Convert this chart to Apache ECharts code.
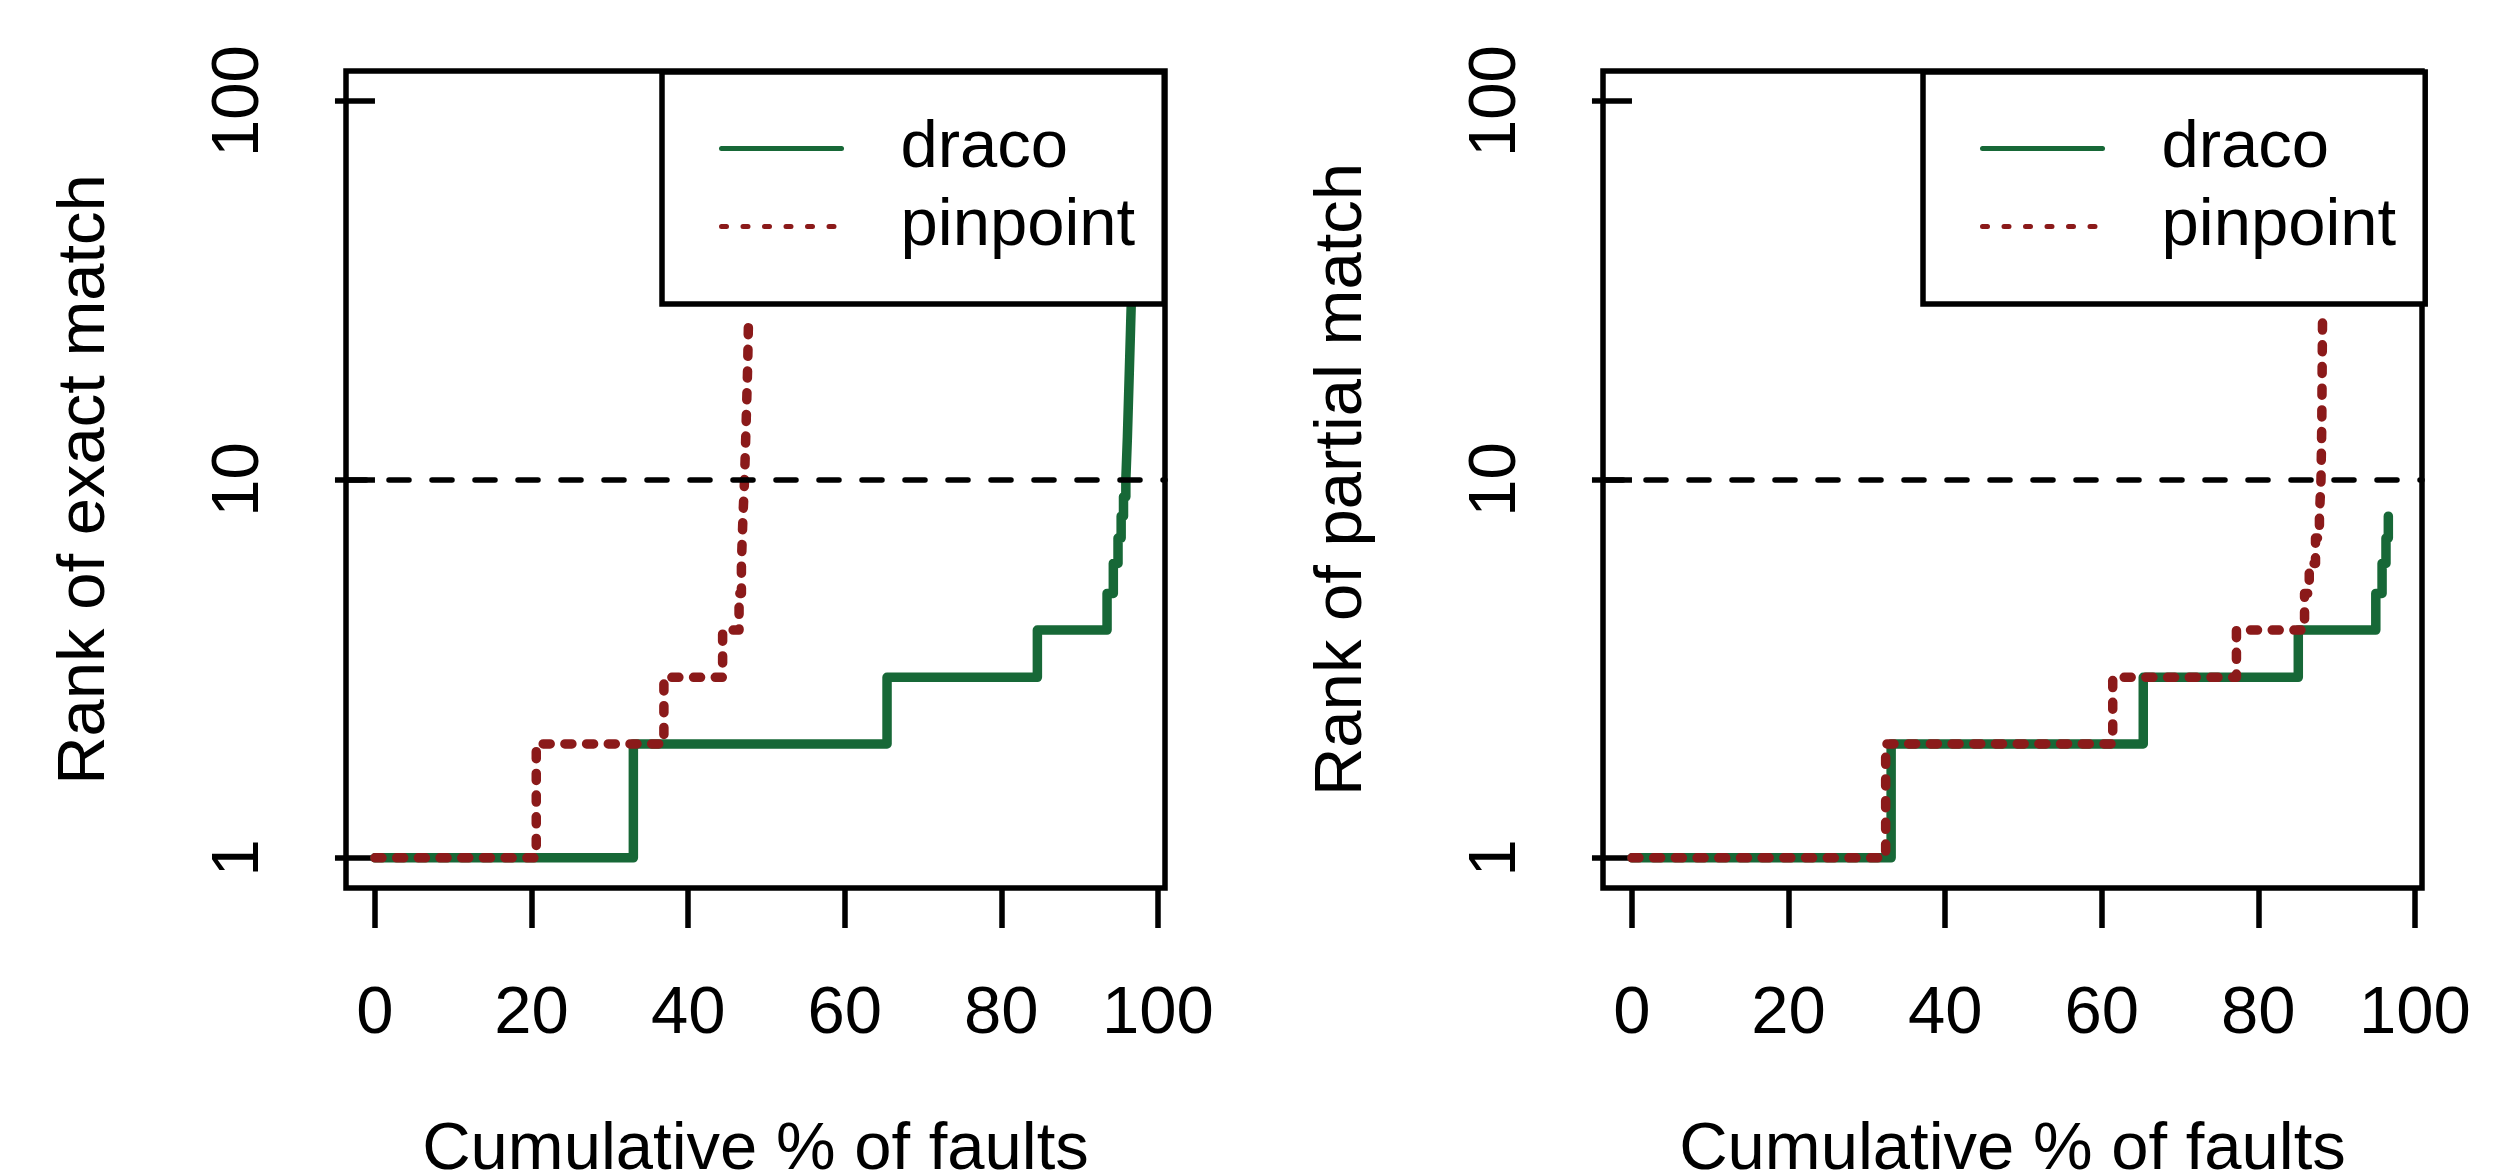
<!DOCTYPE html>
<html><head><meta charset="utf-8">
<script src="https://cdn.jsdelivr.net/npm/echarts@6/dist/echarts.min.js"></script>
<style>html,body{margin:0;padding:0;background:#fff}#c{width:2502px;height:1171px}</style>
</head><body><div id="c"></div>
<script>
// ---- data ----
const xTicks = [0, 20, 40, 60, 80, 100];
const yTicks = [1, 10, 100];
const threshold = 10;
const seriesNames = ['draco', 'pinpoint'];
const panelYTitles = ['Rank of exact match', 'Rank of partial match'];
const xTitle = 'Cumulative % of faults';
// [cumulative % of faults, rank]
const exactDraco = [[0,1],[33.0,2],[65.4,3],[84.6,4],[93.5,5],[94.3,6],[94.9,7],[95.3,8],[95.6,9],[95.9,10],[96.1,13],[96.3,18],[96.5,25],[96.7,35],[96.9,45]];
const exactPinpoint = [[0,1],[20.6,2],[36.9,3],[44.4,4],[46.5,5],[46.8,6],[47.0,8],[47.2,10],[47.4,14],[47.6,20],[47.7,26]];
const partialDraco = [[0,1],[33.1,2],[65.3,3],[85.1,4],[95.0,5],[95.8,6],[96.3,7],[96.6,8]];
const partialPinpoint = [[0,1],[32.4,2],[61.4,3],[77.2,4],[85.9,5],[86.5,6],[87.3,7],[87.8,8],[88.0,10],[88.1,14],[88.15,20],[88.2,27]];

// ---- styling ----
const FONT = 'Liberation Sans, Arial, Helvetica, sans-serif';
const FS = 67;
const GREEN = '#176837';
const RED = '#8B1A1A';
const grids = [
  {left: 346, top: 71, width: 819, height: 817},
  {left: 1603, top: 71, width: 819, height: 817}
];
const legendLefts = [662, 1923];

function xAxis(i) {
  return {
    type: 'value', gridIndex: i, min: -3.7, max: 100.9, position: 'bottom',
    axisLine: {show: false},
    splitLine: {show: false},
    axisTick: {show: true, length: 40, customValues: xTicks, lineStyle: {color: '#000', width: 5.5}},
    axisLabel: {customValues: xTicks, margin: 93, color: '#000', fontSize: FS, fontFamily: FONT},
    name: xTitle, nameLocation: 'middle', nameGap: 229,
    nameTextStyle: {color: '#000', fontSize: FS, fontFamily: FONT}
  };
}
function yAxis(i) {
  return {
    type: 'log', logBase: 10, gridIndex: i, min: 0.832, max: 120.2, position: 'left',
    axisLine: {show: false},
    splitLine: {show: false},
    minorTick: {show: false},
    axisTick: {show: true, length: 40, customValues: yTicks, lineStyle: {color: '#000', width: 5.5}},
    axisLabel: {customValues: yTicks, rotate: 90, margin: 73, color: '#000', fontSize: FS, fontFamily: FONT},
    name: panelYTitles[i], nameLocation: 'middle', nameGap: 227,
    nameTextStyle: {color: '#000', fontSize: FS, fontFamily: FONT}
  };
}
function lineSeries(name, data, i, color, dashed, withMark) {
  const s = {
    name: name, type: 'line', xAxisIndex: i, yAxisIndex: i, data: data,
    step: 'end', symbol: 'none', silent: true, animation: false,
    lineStyle: {color: color, width: 9.5, type: dashed ? [7, 14.7] : 'solid', cap: 'round', join: 'round'},
    itemStyle: {color: color}
  };
  if (withMark) {
    s.markLine = {
      silent: true, symbol: ['none', 'none'], animation: false,
      label: {show: false},
      lineStyle: {color: '#000', width: 5.5, type: [20, 23], cap: 'round'},
      data: [{yAxis: threshold}]
    };
  }
  return s;
}
function legend(i) {
  return {
    left: legendLefts[i], top: 72, orient: 'vertical',
    selectedMode: false,
    backgroundColor: '#fff', borderColor: '#000', borderWidth: 5.5, borderRadius: 0,
    padding: [43, 29, 44, 57],
    itemWidth: 120, itemHeight: 1, itemGap: 11,
    textStyle: {color: '#000', fontSize: FS, fontFamily: FONT, lineHeight: 67, padding: [0, 0, 0, 54]},
    data: [
      {name: seriesNames[0], itemStyle: {opacity: 0}, lineStyle: {color: GREEN, width: 5, type: 'solid', cap: 'round'}},
      {name: seriesNames[1], itemStyle: {opacity: 0}, lineStyle: {color: RED, width: 5, type: [5, 16.5], cap: 'round'}}
    ]
  };
}

const chart = echarts.init(document.getElementById('c'));
chart.setOption({
  backgroundColor: '#fff',
  animation: false,
  grid: grids.map(g => Object.assign({show: true, containLabel: false, outerBoundsMode: 'none', borderColor: '#000', borderWidth: 5.5, backgroundColor: 'transparent'}, g)),
  xAxis: [xAxis(0), xAxis(1)],
  yAxis: [yAxis(0), yAxis(1)],
  legend: [legend(0), legend(1)],
  series: [
    lineSeries(seriesNames[0], exactDraco, 0, GREEN, false, true),
    lineSeries(seriesNames[1], exactPinpoint, 0, RED, true, false),
    lineSeries(seriesNames[0], partialDraco, 1, GREEN, false, true),
    lineSeries(seriesNames[1], partialPinpoint, 1, RED, true, false)
  ]
});
</script></body></html>
